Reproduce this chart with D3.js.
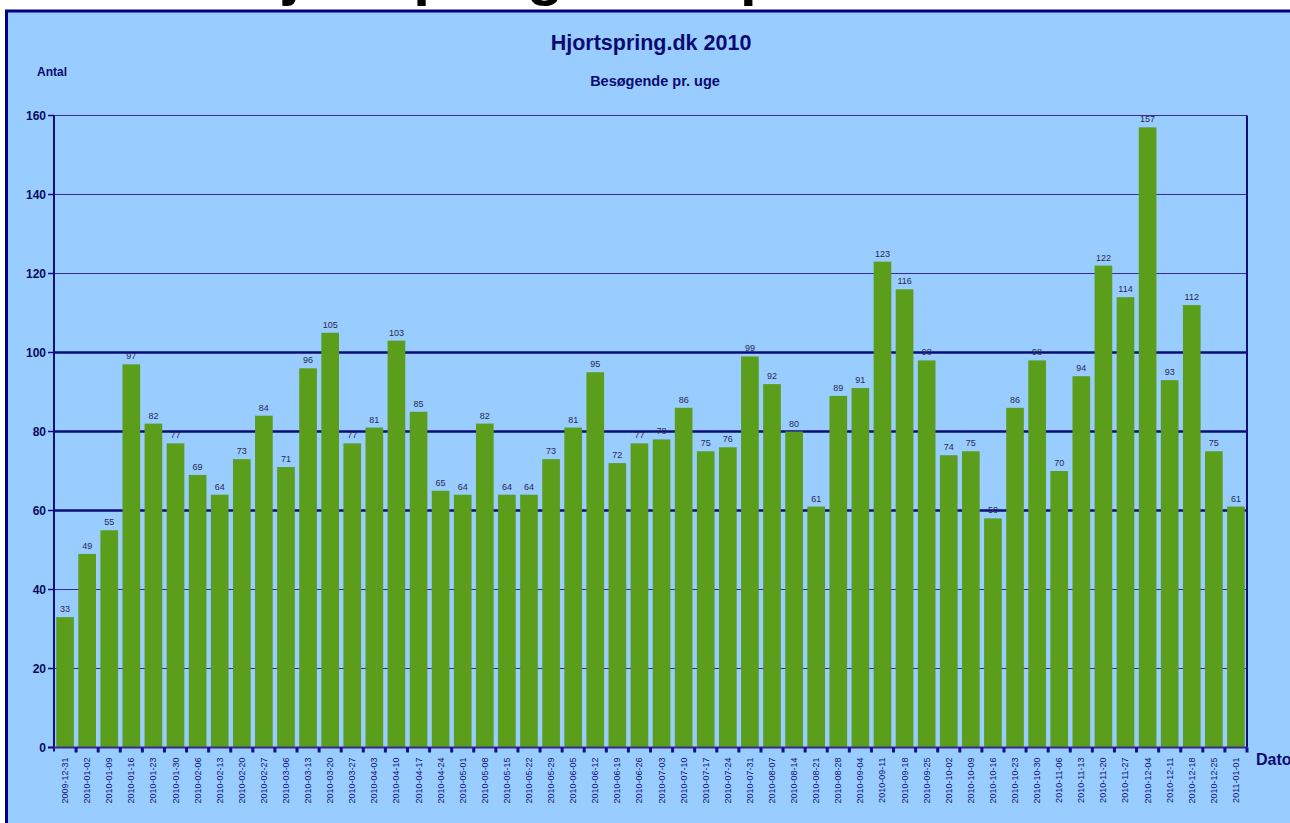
<!DOCTYPE html>
<html>
<head>
<meta charset="utf-8">
<script src="https://cdn.jsdelivr.net/npm/d3@7"></script>
<style>
  body { margin: 0; background: #fff; }
  svg { display: block; font-family: "Liberation Sans", Arial, sans-serif; }
</style>
</head>
<body>
<div class="chart"></div>
<script>
// week labels (x axis)
const weeks = [
  "2009-12-31", "2010-01-02", "2010-01-09", "2010-01-16", "2010-01-23", "2010-01-30",
  "2010-02-06", "2010-02-13", "2010-02-20", "2010-02-27", "2010-03-06", "2010-03-13",
  "2010-03-20", "2010-03-27", "2010-04-03", "2010-04-10", "2010-04-17", "2010-04-24",
  "2010-05-01", "2010-05-08", "2010-05-15", "2010-05-22", "2010-05-29", "2010-06-05",
  "2010-06-12", "2010-06-19", "2010-06-26", "2010-07-03", "2010-07-10", "2010-07-17",
  "2010-07-24", "2010-07-31", "2010-08-07", "2010-08-14", "2010-08-21", "2010-08-28",
  "2010-09-04", "2010-09-11", "2010-09-18", "2010-09-25", "2010-10-02", "2010-10-09",
  "2010-10-16", "2010-10-23", "2010-10-30", "2010-11-06", "2010-11-13", "2010-11-20",
  "2010-11-27", "2010-12-04", "2010-12-11", "2010-12-18", "2010-12-25", "2011-01-01"
];

// visitors per week
const visitors = [
  33, 49, 55, 97, 82, 77, 69, 64, 73, 84,
  71, 96, 105, 77, 81, 103, 85, 65, 64, 82,
  64, 64, 73, 81, 95, 72, 77, 78, 86, 75,
  76, 99, 92, 80, 61, 89, 91, 123, 116, 98,
  74, 75, 58, 86, 98, 70, 94, 122, 114, 157,
  93, 112, 75, 61
];

const yTicks = [0, 20, 40, 60, 80, 100, 120, 140, 160];
const boldGrid = [60, 80, 100];

const barColor = "#5a9e1b";
const panelColor = "#99ccff";

const width = 1290;
const height = 823;

const svg = d3.select('.chart')
    .append('svg')
    .attr('width', width)
    .attr('height', height);

// cropped page heading above the chart panel
svg.append('text')
    .attr('x', 240)
    .attr('y', -6)
    .attr('font-size', '60px')
    .attr('font-weight', 'bold')
    .attr('fill', '#000')
    .text('Hjortspring.dk - opdateret');

// panel
svg.append('rect')
    .attr('x', 6.5)
    .attr('y', 11)
    .attr('width', width)
    .attr('height', height)
    .attr('fill', panelColor)
    .attr('stroke', '#000080')
    .attr('stroke-width', 3);

const plot = {left: 54, right: 1247, top: 115.5, bottom: 747.5};

const x = d3.scaleBand()
    .domain(weeks)
    .range([plot.left, plot.right])
    .paddingInner(0.2)
    .paddingOuter(0.1);

const y = d3.scaleLinear()
    .domain([0, 160])
    .range([plot.bottom, plot.top]);

// gridlines (behind bars)
svg.append('g')
    .selectAll('line')
    .data(yTicks.filter(d => d > 0))
    .enter().append('line')
    .attr('x1', plot.left)
    .attr('x2', plot.right)
    .attr('y1', d => y(d))
    .attr('y2', d => y(d))
    .attr('stroke', d => boldGrid.includes(d) ? '#0c0c78' : '#3a2aa0')
    .attr('stroke-width', d => boldGrid.includes(d) ? 2.5 : 1.2);

// bars
svg.append('g')
    .selectAll('rect')
    .data(visitors)
    .enter().append('rect')
    .attr('x', (d, i) => x(weeks[i]))
    .attr('y', d => y(d))
    .attr('width', x.bandwidth())
    .attr('height', d => y(0) - y(d))
    .attr('fill', barColor);

// value labels
svg.append('g')
    .selectAll('text')
    .data(visitors)
    .enter().append('text')
    .attr('x', (d, i) => x(weeks[i]) + x.bandwidth() / 2)
    .attr('y', d => y(d) - 5)
    .attr('text-anchor', 'middle')
    .attr('font-size', '9px')
    .attr('fill', '#2a2a50')
    .text(d => d);

// right border and axes lines
svg.append('line')
    .attr('x1', plot.right).attr('x2', plot.right)
    .attr('y1', plot.top).attr('y2', plot.bottom)
    .attr('stroke', '#10107a').attr('stroke-width', 2);

svg.append('line')
    .attr('x1', plot.left).attr('x2', plot.left)
    .attr('y1', plot.top).attr('y2', plot.bottom + 4)
    .attr('stroke', '#10107a').attr('stroke-width', 2);

svg.append('line')
    .attr('x1', plot.left - 6).attr('x2', plot.right)
    .attr('y1', plot.bottom).attr('y2', plot.bottom)
    .attr('stroke', '#3a2a90').attr('stroke-width', 2);

// y axis ticks and labels
const yAxis = svg.append('g');
yAxis.selectAll('line')
    .data(yTicks)
    .enter().append('line')
    .attr('x1', plot.left - 6)
    .attr('x2', plot.left)
    .attr('y1', d => y(d))
    .attr('y2', d => y(d))
    .attr('stroke', '#10107a')
    .attr('stroke-width', 1.5);
yAxis.selectAll('text')
    .data(yTicks)
    .enter().append('text')
    .attr('x', plot.left - 8)
    .attr('y', d => y(d))
    .attr('dy', '0.35em')
    .attr('text-anchor', 'end')
    .attr('font-size', '12px')
    .attr('font-weight', 'bold')
    .attr('fill', '#0a0a60')
    .text(d => d);

// x ticks between categories
const step = x.step();
const boundaries = d3.range(1, weeks.length + 1).map(k => plot.left + k * step);
svg.append('g')
    .selectAll('rect')
    .data(boundaries)
    .enter().append('rect')
    .attr('x', d => d - 1.5)
    .attr('y', plot.bottom)
    .attr('width', 3)
    .attr('height', 5)
    .attr('fill', '#14108a');

// x labels, rotated
svg.append('g')
    .selectAll('text')
    .data(weeks)
    .enter().append('text')
    .attr('transform', d => `translate(${x(d) + x.bandwidth() / 2 + 3},${plot.bottom + 10}) rotate(-90)`)
    .attr('text-anchor', 'end')
    .attr('font-size', '9px')
    .attr('fill', '#14147a')
    .text(d => d);

// titles
svg.append('text')
    .attr('x', 651)
    .attr('y', 50)
    .attr('text-anchor', 'middle')
    .attr('font-size', '21.5px')
    .attr('font-weight', 'bold')
    .attr('fill', '#0a0a70')
    .text('Hjortspring.dk 2010');

svg.append('text')
    .attr('x', 655)
    .attr('y', 86)
    .attr('text-anchor', 'middle')
    .attr('font-size', '14.5px')
    .attr('font-weight', 'bold')
    .attr('fill', '#0a0a70')
    .text('Besøgende pr. uge');

svg.append('text')
    .attr('x', 37)
    .attr('y', 76)
    .attr('font-size', '12px')
    .attr('font-weight', 'bold')
    .attr('fill', '#0a0a70')
    .text('Antal');

svg.append('text')
    .attr('x', 1256)
    .attr('y', 765)
    .attr('font-size', '16px')
    .attr('font-weight', 'bold')
    .attr('fill', '#0a0a70')
    .text('Dato');
</script>
</body>
</html>
